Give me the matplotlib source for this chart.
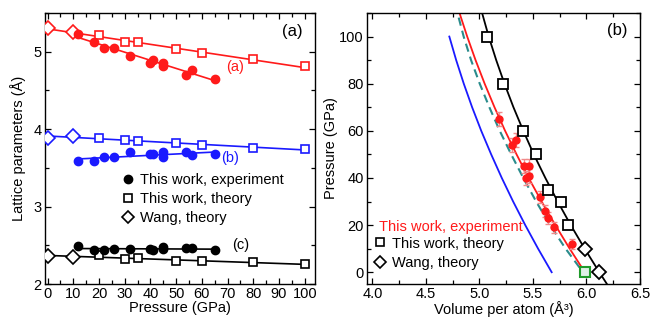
import numpy as np
import matplotlib
matplotlib.use('Agg')
import matplotlib.pyplot as plt
from matplotlib.lines import Line2D

plt.rcParams['font.family'] = ['Liberation Sans', 'DejaVu Sans']
plt.rcParams['font.size'] = 10.5

RED = '#ff1a1a'
BLUE = '#1a1aff'
TEAL = '#2a8c8c'
GREEN = '#1f9a2a'

# ---- panel (a): lattice parameters vs pressure ----
p_wang = [0, 10]
p_theo = [20, 30, 35, 50, 60, 80, 100]
p_exp = [12, 18, 22, 26, 32, 40, 41, 45, 45, 54, 56, 65]

a_wang = [5.30, 5.26]
a_theo = [5.21, 5.12, 5.12, 5.03, 4.98, 4.90, 4.81]
a_exp = [5.23, 5.12, 5.05, 5.05, 4.94, 4.85, 4.89, 4.86, 4.81, 4.70, 4.77, 4.65]

b_wang = [3.89, 3.915]
b_theo = [3.88, 3.864, 3.85, 3.82, 3.795, 3.757, 3.74]
b_exp = [3.595, 3.595, 3.637, 3.637, 3.70, 3.675, 3.675, 3.70, 3.645, 3.70, 3.667, 3.68]

c_wang = [2.363, 2.355]
c_theo = [2.37, 2.32, 2.337, 2.30, 2.295, 2.28, 2.256]
c_exp = [2.49, 2.44, 2.44, 2.45, 2.45, 2.45, 2.44, 2.48, 2.45, 2.46, 2.46, 2.44]

# ---- panel (b): pressure vs volume ----
v_exp = [5.186, 5.301, 5.342, 5.417, 5.463, 5.432, 5.463, 5.566, 5.613, 5.644, 5.70, 5.862]
pv_exp = [65, 54, 56, 45, 45, 40, 41, 32, 26, 23, 19, 12]
pv_err = [3, 3, 3, 3, 3, 3, 3, 2.5, 2.5, 2.5, 2.5, 2]

v_theo = [5.068, 5.223, 5.41, 5.526, 5.638, 5.759, 5.83]
pv_theo = [100, 80, 60, 50, 35, 30, 20]
v_wang = [5.986, 6.12]
pv_wang = [10, 0]
v_green = [5.99]
pv_green = [0]

# fitted curves
black_v = [6.191, 6.12, 5.983, 5.853, 5.731, 5.616, 5.508, 5.41, 5.318, 5.234, 5.157, 5.087, 5.025]
black_p = [-5, 0, 10, 20, 30, 40, 50, 60, 70, 80, 90, 100, 110]
red_v = [5.985, 5.843, 5.709, 5.581, 5.46, 5.347, 5.24, 5.141, 5.049, 4.964, 4.886, 4.814]
red_p = [0, 10, 20, 30, 40, 50, 60, 70, 80, 90, 100, 110]
dash_v = [5.935, 5.805, 5.66, 5.53, 5.41, 5.297, 5.19, 5.093, 5.003, 4.922, 4.853, 4.795]
dash_p = [2, 10, 20, 30, 40, 50, 60, 70, 80, 90, 100, 110]
blue_v = [5.675, 5.548, 5.428, 5.315, 5.209, 5.11, 5.017, 4.932, 4.854, 4.783, 4.719]
blue_p = [0, 10, 20, 30, 40, 50, 60, 70, 80, 90, 100]

fig = plt.figure(figsize=(6.52, 3.22), dpi=100)
ax1 = fig.add_axes([45 / 652, 38 / 322, 270 / 652, 271 / 322])
ax2 = fig.add_axes([367 / 652, 38 / 322, 273 / 652, 271 / 322])

for ax in (ax1, ax2):
    ax.tick_params(which='both', direction='in', top=True, right=True, width=0.9, pad=2.5)
    ax.tick_params(which='major', length=4)
    ax.tick_params(which='minor', length=3)
    for s in ax.spines.values():
        s.set_linewidth(1.0)

# panel (a)
series = [(a_wang, a_theo, a_exp, RED), (b_wang, b_theo, b_exp, BLUE), (c_wang, c_theo, c_exp, 'k')]
for wang, theo, exp, col in series:
    pt = np.array(p_wang + p_theo)
    yt = np.array(wang + theo)
    k = np.polyfit(pt, yt, 1)
    ax1.plot([0, 100], np.polyval(k, [0, 100]), color=col, lw=1.2, zorder=2)
    k2 = np.polyfit(p_exp, exp, 1)
    ax1.plot([12, 65], np.polyval(k2, [12, 65]), color=col, lw=1.2, zorder=2)
    ax1.plot(p_wang, wang, 'D', ms=7, mfc='white', mec=col, mew=1.2, zorder=3)
    ax1.plot(p_theo, theo, 's', ms=6, mfc='white', mec=col, mew=1.2, zorder=3)
    ax1.plot(p_exp, exp, 'o', ms=6, color=col, zorder=4)

ax1.text(73, 4.80, '(a)', color=RED, ha='center', va='center')
ax1.text(71, 3.63, '(b)', color=BLUE, ha='center', va='center')
ax1.text(75, 2.50, '(c)', color='k', ha='center', va='center')
ax1.text(0.955, 0.93, '(a)', transform=ax1.transAxes, ha='right', va='center', fontsize=12)

handles = [Line2D([], [], ls='none', marker='o', ms=6, color='k'),
           Line2D([], [], ls='none', marker='s', ms=6, mfc='white', mec='k', mew=1.2),
           Line2D([], [], ls='none', marker='D', ms=6, mfc='white', mec='k', mew=1.2)]
ax1.legend(handles, ['This work, experiment', 'This work, theory', 'Wang, theory'],
           loc='upper left', bbox_to_anchor=(0.285, 0.41), frameon=False,
           handlelength=0.8, handletextpad=0.45, labelspacing=0.35, borderpad=0, borderaxespad=0)

ax1.set_xlim(-1, 104)
ax1.set_ylim(2, 5.5)
ax1.set_xticks(range(0, 101, 10))
ax1.set_xticks(range(0, 105, 5), minor=True)
ax1.set_yticks([2, 3, 4, 5])
ax1.set_yticks([2.5, 3.5, 4.5, 5.5], minor=True)
ax1.set_xlabel('Pressure (GPa)', labelpad=0)
ax1.set_ylabel('Lattice parameters (Å)', labelpad=5)

# panel (b)
ax2.plot(blue_v, blue_p, color=BLUE, lw=1.3)
ax2.plot(dash_v, dash_p, color=TEAL, lw=1.5, ls=(0, (4, 2.5)))
ax2.plot(red_v, red_p, color=RED, lw=1.3)
ax2.plot(black_v, black_p, color='k', lw=1.3)
ax2.errorbar(v_exp, pv_exp, yerr=pv_err, fmt='o', ms=5, color=RED, ecolor='#f08a8a',
             elinewidth=1, capsize=2.5, capthick=1, zorder=4)
ax2.plot(v_theo, pv_theo, 's', ms=7, mfc='white', mec='k', mew=1.3, zorder=5)
ax2.plot(v_wang, pv_wang, 'D', ms=7, mfc='white', mec='k', mew=1.3, zorder=5)
ax2.plot(v_green, pv_green, 's', ms=6.5, mfc='#dff0e6', mec=GREEN, mew=1.5, zorder=6)

ax2.text(0.045, 0.21, 'This work, experiment', color=RED, transform=ax2.transAxes,
         ha='left', va='center')
handles2 = [Line2D([], [], ls='none', marker='s', ms=6, mfc='white', mec='k', mew=1.2),
            Line2D([], [], ls='none', marker='D', ms=6, mfc='white', mec='k', mew=1.2)]
ax2.legend(handles2, ['This work, theory', 'Wang, theory'],
           loc='upper left', bbox_to_anchor=(0.025, 0.175), frameon=False,
           handlelength=0.8, handletextpad=0.45, labelspacing=0.35, borderpad=0, borderaxespad=0)
ax2.text(0.955, 0.935, '(b)', transform=ax2.transAxes, ha='right', va='center', fontsize=12)

ax2.set_xlim(3.95, 6.5)
ax2.set_ylim(-5, 110)
ax2.set_xticks([4.0, 4.5, 5.0, 5.5, 6.0, 6.5])
ax2.set_xticks(np.arange(4.0, 6.51, 0.25), minor=True)
ax2.set_yticks(range(0, 101, 20))
ax2.set_yticks(range(10, 111, 20), minor=True)
ax2.set_xlabel('Volume per atom (Å³)', labelpad=0)
ax2.set_ylabel('Pressure (GPa)', labelpad=1)

fig.savefig('out.png', dpi=100)
